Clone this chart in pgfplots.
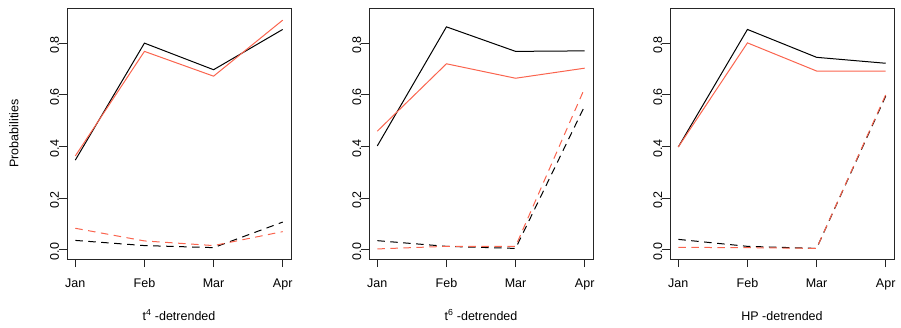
\documentclass[border=0pt]{standalone}
\usepackage{fontspec}
\setmainfont{Liberation Sans}
\usepackage{pgfplots}
\pgfplotsset{compat=1.18}
\definecolor{rred}{RGB}{250,100,78}
\pgfplotsset{
  rstyle/.style={
    scale only axis,
    width=224pt, height=251pt,
    xmin=0.88, xmax=4.12,
    ymin=-0.036, ymax=0.936,
    axis line style={line width=0.8pt, black!85},
    tick style={line width=0.8pt, black!85},
    tick align=outside,
    major tick length=8pt,
    xtick={1,2,3,4},
    xticklabels={Jan,Feb,Mar,Apr},
    ytick={0,0.2,0.4,0.6,0.8},
    yticklabel={\pgfmathprintnumber[fixed,fixed zerofill,precision=1]{\tick}},
    /pgf/number format/assume math mode=true,
    xtick pos=bottom, ytick pos=left,
    xticklabel style={anchor=base, yshift=-20pt},
    yticklabel style={rotate=90, anchor=base, xshift=-2pt},
    xlabel style={at={(axis description cs:0.5,0)}, anchor=base, yshift=-61pt},
    ylabel style={at={(axis description cs:0,0.5)}, anchor=base, rotate=0, yshift=48.7pt},
    font=\fontsize{12.5}{15}\selectfont,
    every axis plot/.append style={line width=1pt, mark=none},
    sol/.style={solid},
    dsh/.style={dash pattern=on 7.5pt off 5.5pt},
    clip=false,
  }
}
\begin{document}
\begin{tikzpicture}[x=1pt,y=1pt]
\useasboundingbox (0,0) rectangle (901,327);
% Panel 1
\begin{axis}[rstyle, at={(67pt,68pt)}, anchor=south west,
  xlabel={t\textsuperscript{4} -detrended}, ylabel={Probabilities}]
\addplot[black, sol] coordinates {(1,0.347) (2,0.800) (3,0.697) (4,0.853)};
\addplot[rred, sol] coordinates {(1,0.363) (2,0.768) (3,0.672) (4,0.889)};
\addplot[black, dsh] coordinates {(1,0.036) (2,0.016) (3,0.008) (4,0.107)};
\addplot[rred, dsh] coordinates {(1,0.083) (2,0.034) (3,0.016) (4,0.070)};
\end{axis}
% Panel 2
\begin{axis}[rstyle, at={(369pt,68pt)}, anchor=south west,
  xlabel={t\textsuperscript{6} -detrended}]
\addplot[black, sol] coordinates {(1,0.402) (2,0.863) (3,0.768) (4,0.770)};
\addplot[rred, sol] coordinates {(1,0.459) (2,0.720) (3,0.664) (4,0.703)};
\addplot[black, dsh] coordinates {(1,0.035) (2,0.013) (3,0.005) (4,0.557)};
\addplot[rred, dsh] coordinates {(1,0.003) (2,0.013) (3,0.013) (4,0.626)};
\end{axis}
% Panel 3
\begin{axis}[rstyle, at={(670pt,68pt)}, anchor=south west,
  xlabel={HP -detrended}]
\addplot[black, sol] coordinates {(1,0.398) (2,0.853) (3,0.745) (4,0.722)};
\addplot[rred, sol] coordinates {(1,0.398) (2,0.801) (3,0.692) (4,0.692)};
\addplot[black, dsh] coordinates {(1,0.040) (2,0.013) (3,0.005) (4,0.595)};
\addplot[rred, dsh] coordinates {(1,0.009) (2,0.008) (3,0.005) (4,0.600)};
\end{axis}
\end{tikzpicture}
\end{document}
